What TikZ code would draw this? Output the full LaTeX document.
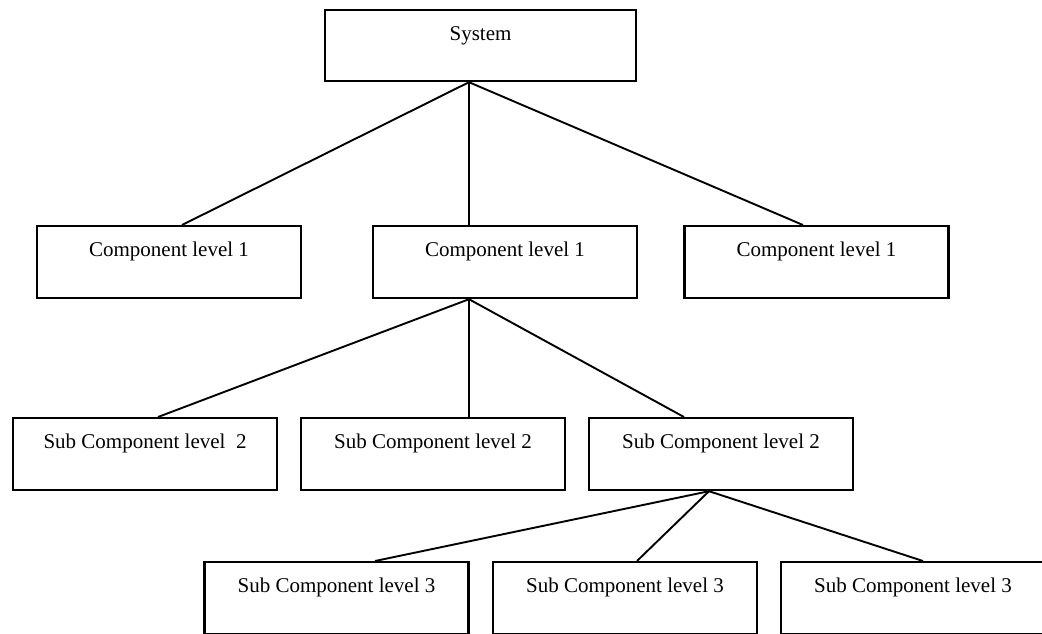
\documentclass[tikz,border=0pt]{standalone}
\usepackage{fontspec}
\setmainfont{Liberation Serif}
\usepackage{tikz}
\tikzset{
	compbox/.style={draw, line width=2.2pt, minimum width=264pt, inner xsep=0pt, inner ysep=0pt,
		text height=30pt, text depth=42pt, anchor=north, font=\fontsize{21}{25}\selectfont},
	sysbox/.style={compbox, minimum width=311pt, text depth=41pt},
	link/.style={line width=1.9pt}
}

\begin{document}
\begin{tikzpicture}[x=1pt, y=-1pt]
		%%%%% START %%%%%
		\useasboundingbox (0, 0) rectangle (1042, 633);
		
		\node[sysbox] (sys) at (480.5, 9) {System};
		
		\node[compbox] (ca) at (169, 225) {Component level 1};
		\node[compbox] (cb) at (505, 225) {Component level 1};
		\node[compbox] (cc) at (816.5, 225) {Component level 1};
		
		\node[compbox] (sa) at (145, 417) {Sub Component level\ \ 2};
		\node[compbox] (sb) at (433, 417) {Sub Component level 2};
		\node[compbox] (sc) at (721, 417) {Sub Component level 2};
		
		\node[compbox] (ta) at (336.5, 561) {Sub Component level 3};
		\node[compbox] (tb) at (625, 561) {Sub Component level 3};
		\node[compbox] (tc) at (913, 561) {Sub Component level 3};
		
		\draw[link] ([xshift=-11.5pt]sys.south) -- ([xshift=13pt]ca.north);
		\draw[link] ([xshift=-11.5pt]sys.south) -- ([xshift=-36pt]cb.north);
		\draw[link] ([xshift=-11.5pt]sys.south) -- ([xshift=-13.5pt]cc.north);
		
		\draw[link] ([xshift=-36pt]cb.south) -- ([xshift=13pt]sa.north);
		\draw[link] ([xshift=-36pt]cb.south) -- ([xshift=36pt]sb.north);
		\draw[link] ([xshift=-36pt]cb.south) -- ([xshift=-37pt]sc.north);
		
		\draw[link] ([xshift=-12pt]sc.south) -- ([xshift=38.5pt]ta.north);
		\draw[link] ([xshift=-12pt]sc.south) -- ([xshift=12pt]tb.north);
		\draw[link] ([xshift=-12pt]sc.south) -- ([xshift=10pt]tc.north);
		
		%%%%% END %%%%%
	\end{tikzpicture}
\end{document}
